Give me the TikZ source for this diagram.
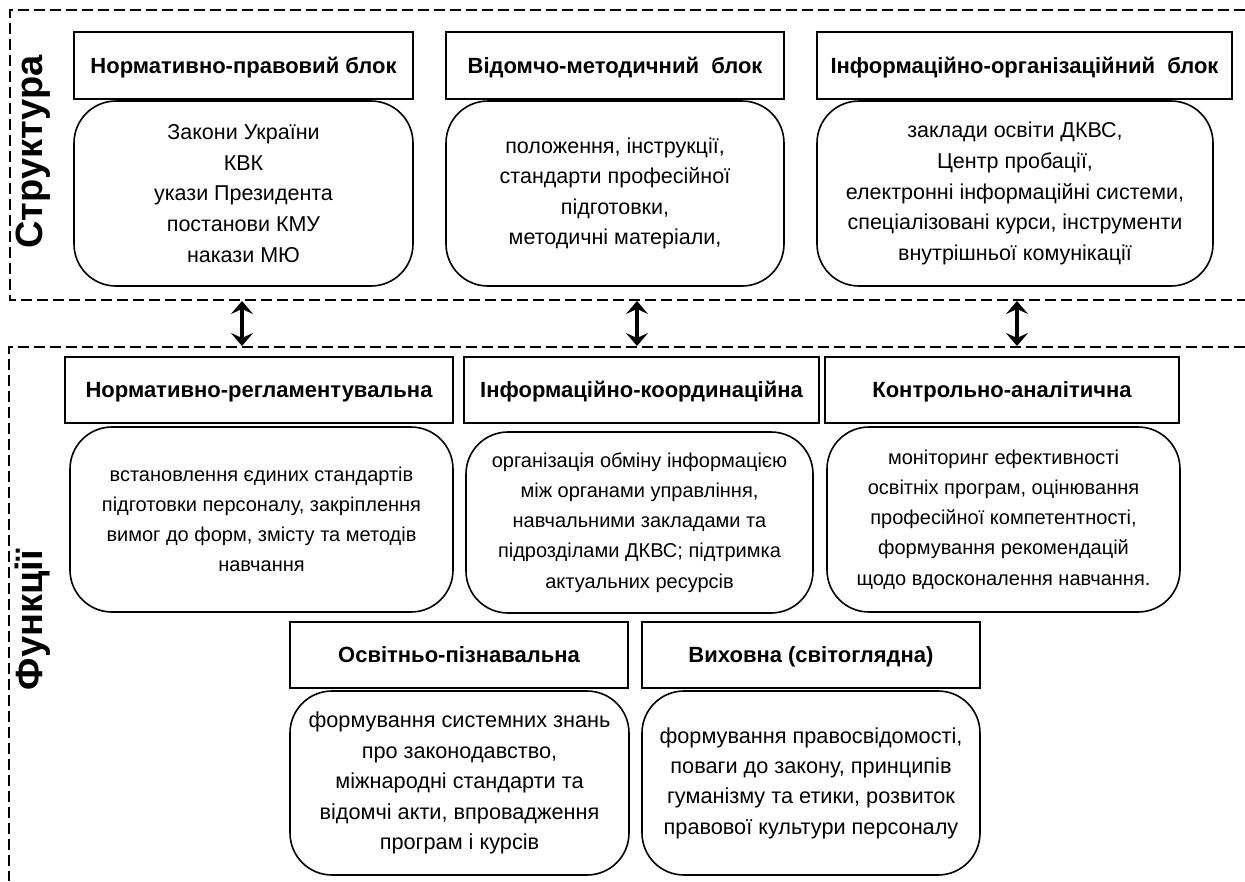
\documentclass[tikz,border=0pt]{standalone}
\usepackage{fontspec}
\setmainfont{Liberation Sans}
\usetikzlibrary{arrows.meta}
\begin{document}
\begin{tikzpicture}[x=1pt,y=-1pt,
  hdr/.style={draw, line width=1.6pt, minimum height=67pt, inner sep=0pt, text height=15.8pt, text depth=0pt, font=\bfseries\fontsize{22}{26}\selectfont},
  bodybox/.style={draw, line width=1.6pt, rounded corners=42pt, inner sep=0pt, align=center},
  sbody/.style={bodybox, font=\fontsize{21.5}{30.6}\selectfont},
  fbody/.style={bodybox, font=\fontsize{20}{30.2}\selectfont},
  gbody/.style={bodybox, font=\fontsize{21.7}{30.4}\selectfont},
  dashframe/.style={dash pattern=on 11pt off 5pt, line width=1.6pt},
  dblarrow/.style={line width=4pt, {Stealth[length=13pt,width=22pt,inset=5pt]}-{Stealth[length=13pt,width=22pt,inset=5pt]}},
  sidelabel/.style={rotate=90, font=\bfseries\fontsize{38}{42}\selectfont}]
\useasboundingbox (0,0) rectangle (1245,881);

% frames
\draw[dashframe] (1245,10) -- (10,10) -- (10,300) -- (1245,300);
\draw[dashframe] (1245,347) -- (9,347) -- (9,881);

% side labels
\node[sidelabel] (lstr) at (33,152) {Структура};
\node[sidelabel] (lfun) at (33,620) {Функції};

% structure
\node[hdr, minimum width=339pt] (sh1) at (243.5,65.5) {Нормативно-правовий блок};
\node[sbody, minimum width=339pt, minimum height=185pt] (sb1) at (243.5,193.5)
  {Закони України\\КВК\\укази Президента\\постанови КМУ\\накази МЮ};
\node[hdr, minimum width=338pt] (sh2) at (615,65.5) {Відомчо-методичний~ блок};
\node[sbody, minimum width=338pt, minimum height=185pt] (sb2) at (615,193.5)
  {положення, інструкції,\\стандарти професійної\\підготовки,\\методичні матеріали,};
\node[hdr, minimum width=415pt] (sh3) at (1024.5,65.5) {Інформаційно-організаційний~ блок};
\node[sbody, minimum width=396pt, minimum height=185pt] (sb3) at (1015,193.5)
  {заклади освіти ДКВС,\\Центр пробації,\\електронні інформаційні системи,\\спеціалізовані курси, інструменти\\внутрішньої комунікації};

% arrows
\coordinate (t1) at (242,301); \coordinate (b1) at (242,346);
\coordinate (t2) at (637,301); \coordinate (b2) at (637,346);
\coordinate (t3) at (1017,301); \coordinate (b3) at (1017,346);
\draw[dblarrow] (t1) -- (b1);
\draw[dblarrow] (t2) -- (b2);
\draw[dblarrow] (t3) -- (b3);

% functions row 1
\node[hdr, minimum width=388pt, minimum height=66pt] (fh1) at (259,390) {Нормативно-регламентувальна};
\node[fbody, minimum width=383pt, minimum height=185pt] (fb1) at (261.5,519.5)
  {встановлення єдиних стандартів\\підготовки персоналу, закріплення\\вимог до форм, змісту та методів\\навчання};
\node[hdr, minimum width=355pt, minimum height=66pt] (fh2) at (641.5,390) {Інформаційно-координаційна};
\node[fbody, minimum width=347pt, minimum height=181pt] (fb2) at (639.5,522.5)
  {організація обміну інформацією\\між органами управління,\\навчальними закладами та\\підрозділами ДКВС; підтримка\\актуальних ресурсів};
\node[hdr, minimum width=354pt, minimum height=66pt] (fh3) at (1002,390) {Контрольно-аналітична};
\node[fbody, minimum width=353pt, minimum height=185pt] (fb3) at (1003.5,519.5)
  {моніторинг ефективності\\освітніх програм, оцінювання\\професійної компетентності,\\формування рекомендацій\\щодо вдосконалення навчання.};

% functions row 2
\node[hdr, minimum width=338pt, minimum height=66pt] (fh4) at (459,655) {Освітньо-пізнавальна};
\node[gbody, minimum width=339pt, minimum height=184pt] (fb4) at (459.5,783)
  {формування системних знань\\про законодавство,\\міжнародні стандарти та\\відомчі акти, впровадження\\програм і курсів};
\node[hdr, minimum width=338pt, minimum height=66pt] (fh5) at (811,655) {Виховна (світоглядна)};
\node[gbody, minimum width=338pt, minimum height=184pt] (fb5) at (811,783)
  {формування правосвідомості,\\поваги до закону, принципів\\гуманізму та етики, розвиток\\правової культури персоналу};
\end{tikzpicture}
\end{document}
